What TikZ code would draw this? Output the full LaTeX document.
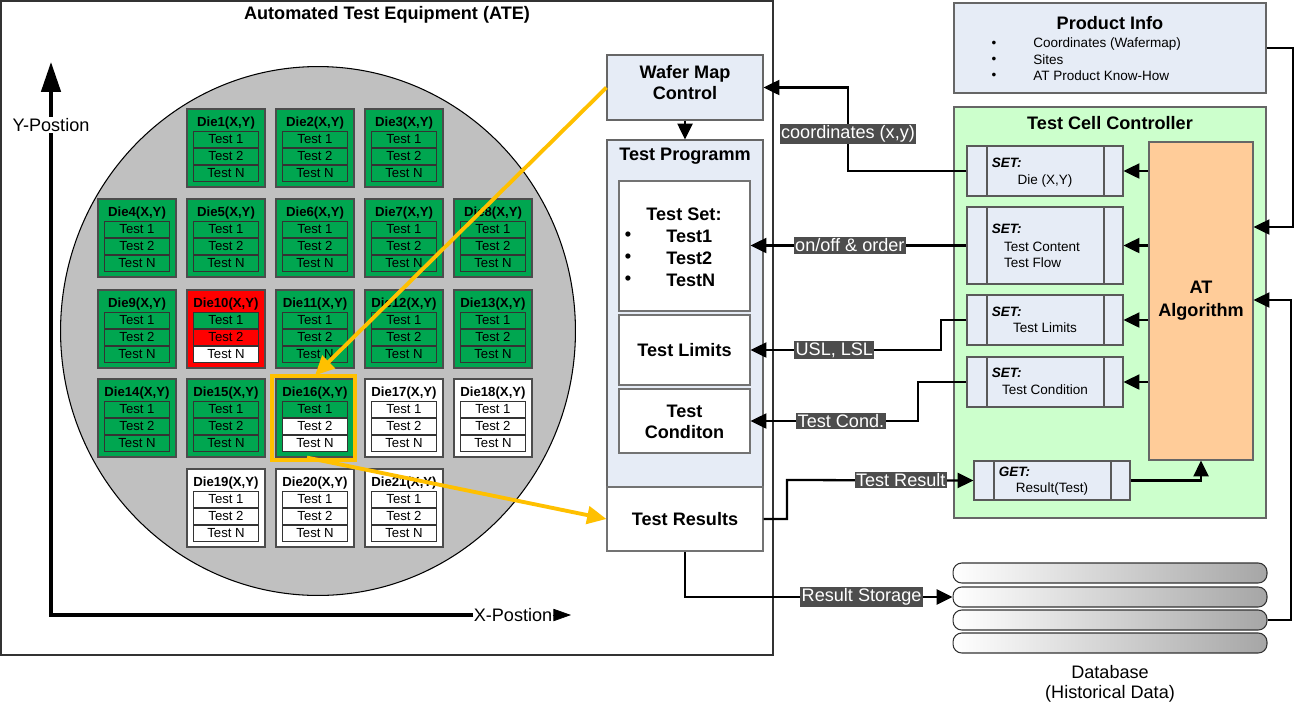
\documentclass[tikz,border=0pt]{standalone}
\usepackage{fontspec}
\setmainfont{Liberation Sans}
\usetikzlibrary{positioning, arrows.meta, calc, fit, shapes.geometric}
\definecolor{diegreen}{HTML}{00A650}
\definecolor{diered}{HTML}{FF0000}
\definecolor{paneblue}{HTML}{E6ECF6}
\definecolor{cellgreen}{HTML}{CCFFCC}
\definecolor{algopeach}{HTML}{FFCC99}
\definecolor{wafergray}{HTML}{C0C0C0}
\definecolor{hiliteorange}{HTML}{FFC000}
\definecolor{taggray}{HTML}{4D4D4D}

\newcommand{\headfont}{\fontsize{10.3}{12}\selectfont}
\newcommand{\infofont}{\fontsize{7.7}{9}\selectfont}
\newcommand{\diefont}{\fontsize{7.5}{9}\selectfont}

\tikzset{
  frame/.style={draw=black!80, line width=0.9pt, inner sep=0pt},
  panel/.style={draw=black!60, fill=paneblue, line width=0.6pt, inner sep=0pt},
  slot/.style={draw=black!55, fill=white, line width=0.6pt, inner sep=0pt},
  head/.style={font=\headfont\bfseries, inner sep=0pt, align=center},
  wafer/.style={ellipse, draw=black, fill=wafergray, line width=0.6pt, minimum width=10.3cm, minimum height=10.58cm},
  die/.style={draw=black!70, line width=0.7pt, minimum width=1.56cm, minimum height=1.56cm, inner sep=0pt},
  dietitle/.style={font=\diefont\bfseries, inner sep=0pt},
  testbox/.style={draw=black!80, line width=0.5pt, minimum width=1.3cm, minimum height=0.32cm, inner sep=0pt, font=\diefont},
  axis/.style={line width=2pt, -{Triangle[length=17pt, width=11pt]}},
  hilite/.style={draw=hiliteorange, line width=2.2pt},
  orangearrow/.style={hiliteorange, line width=2.2pt, -{Triangle[length=11pt, width=10pt]}},
  conn/.style={line width=1.3pt, -{Triangle[length=9pt, width=8.5pt]}},
  tag/.style={fill=taggray, text=white, font=\headfont, inner sep=0.8pt},
  setbox/.style={draw=black!65, fill=paneblue, line width=0.6pt, inner sep=0pt,
    path picture={
      \draw[black!65, line width=0.6pt] ([xshift=0.4cm]path picture bounding box.north west) -- ([xshift=0.4cm]path picture bounding box.south west);
      \draw[black!65, line width=0.6pt] ([xshift=-0.38cm]path picture bounding box.north east) -- ([xshift=-0.38cm]path picture bounding box.south east);}},
  sethead/.style={font=\infofont\bfseries\itshape, anchor=west, inner sep=0pt},
  setbody/.style={font=\infofont, align=left, inner sep=0pt},
  disk/.style={draw=black!80, line width=0.6pt, rounded corners=5pt, left color=white, right color=black!35, minimum width=6.28cm, minimum height=0.4cm}
}

\begin{document}
\begin{tikzpicture}[x=0.02cm, y=-0.02cm]
  \useasboundingbox (0,0) rectangle (1294,707);

  % ATE with the wafer
  \node[frame, fit={(1,1) (773,655)}] (ate) {};
  \node[head] (ate-title) at (387,15) {Automated Test Equipment (ATE)};
  \node[wafer] (wafer) at (318,331) {};

  \coordinate (origin) at (51,615);
  \coordinate (ytip) at (51,62);
  \node[font=\headfont, inner sep=0pt] (xlab) at (513,615) {X-Postion};
  \coordinate (xend) at (571,615);
  \draw[axis] (xlab.west) -- (origin) -- (ytip);
  \draw[-{Triangle[length=10pt, width=7pt]}] (xlab.east) -- (xend);
  \node[font=\headfont, fill=white, inner sep=1pt] (ylab) at (51,125) {Y-Postion};

  % dies: number/x/y/die/test1/test2/testN
  \foreach \n/\x/\y/\dfill/\ca/\cb/\cn in {
      1/226/148/diegreen/diegreen/diegreen/diegreen,
      2/315/148/diegreen/diegreen/diegreen/diegreen,
      3/404/148/diegreen/diegreen/diegreen/diegreen,
      4/137/238/diegreen/diegreen/diegreen/diegreen,
      5/226/238/diegreen/diegreen/diegreen/diegreen,
      6/315/238/diegreen/diegreen/diegreen/diegreen,
      7/404/238/diegreen/diegreen/diegreen/diegreen,
      8/493/238/diegreen/diegreen/diegreen/diegreen,
      9/137/329/diegreen/diegreen/diegreen/diegreen,
      10/226/329/diered/diegreen/diered/white,
      11/315/329/diegreen/diegreen/diegreen/diegreen,
      12/404/329/diegreen/diegreen/diegreen/diegreen,
      13/493/329/diegreen/diegreen/diegreen/diegreen,
      14/137/418/diegreen/diegreen/diegreen/diegreen,
      15/226/418/diegreen/diegreen/diegreen/diegreen,
      16/315/418/diegreen/diegreen/white/white,
      17/404/418/white/white/white/white,
      18/493/418/white/white/white/white,
      19/226/508/white/white/white/white,
      20/315/508/white/white/white/white,
      21/404/508/white/white/white/white}{
    \node[die, fill=\dfill] (d\n) at (\x,\y) {};
    \node[dietitle] (d\n-title) at ($(d\n.north)+(0,15)$) {Die\n(X,Y)};
    \node[testbox, fill=\ca] (d\n-1) at ($(d\n)+(0,-9)$) {Test 1};
    \node[testbox, fill=\cb] (d\n-2) at ($(d\n)+(0,8)$) {Test 2};
    \node[testbox, fill=\cn] (d\n-3) at ($(d\n)+(0,25)$) {Test N};
  }
  \draw[hilite] ($(d16.north west)+(-3,-2)$) rectangle ($(d16.south east)+(0,2)$);

  % test program side
  \node[panel, fit={(607,55) (763,120)}] (wmc) {};
  \node[head] (wmc-text) at ($(wmc)+(0,-5)$) {Wafer Map\\Control};
  \node[panel, fit={(607,140) (763,487)}] (tp) {};
  \node[head] (tp-title) at (685,156) {Test Programm};
  \node[slot, fit={(619,181) (750,311)}] (tset) {};
  \node[head] (tset-title) at (684,214) {Test Set:};
  \foreach \t [count=\i] in {Test1,Test2,TestN}{
    \node[font=\headfont\bfseries] (tset-b\i) at (628,{214+22*\i}) {\textbullet};
    \node[head, anchor=west] (tset-\i) at (666,{214+22*\i}) {\t};
  }
  \node[slot, fit={(619,315) (750,385)}] (tlim) {};
  \node[head] (tlim-text) at (tlim) {Test Limits};
  \node[slot, fit={(619,389) (750,453)}] (tcond) {};
  \node[head] (tcond-text) at ($(tcond)+(0,1)$) {Test\\Conditon};
  \node[slot, fit={(607,487) (763,551)}] (trs) {};
  \node[head] (trs-text) at (trs) {Test Results};
  \draw[conn] (wmc) -- (tp);

  % product info and test cell controller
  \node[panel, fit={(954,3) (1266,93)}] (pinfo) {};
  \node[head] (pinfo-title) at (1110,23) {Product Info};
  \foreach \t [count=\i] in {Coordinates (Wafermap),Sites,AT Product Know-How}{
    \node[font=\infofont] (pinfo-b\i) at (994,{28+16*\i}) {\textbullet};
    \node[font=\infofont, anchor=west, inner sep=0pt] (pinfo-\i) at (1033,{28+16*\i}) {\t};
  }
  \node[frame, draw=black!60, line width=0.6pt, fill=cellgreen, fit={(954,107) (1266,518)}] (tcc) {};
  \node[head] (tcc-title) at (1110,123) {Test Cell Controller};
  \node[panel, fill=algopeach, fit={(1149,142) (1253,460)}] (algo) {};
  \node[head, font=\fontsize{10.3}{13}\selectfont\bfseries] (algo-text) at (algo) {AT\\Algorithm};

  \node[setbox, fit={(967,146) (1123,196)}] (sdie) {};
  \node[sethead] (sdie-h) at ($(sdie.north west)+(25,17)$) {SET:};
  \node[setbody] (sdie-b) at ($(sdie)+(0,10)$) {Die (X,Y)};
  \node[setbox, fit={(967,207) (1123,284)}] (scont) {};
  \node[sethead] (scont-h) at ($(scont.north west)+(25,22)$) {SET:};
  \node[setbody] (scont-b) at ($(scont)+(-3,9)$) {Test Content\\Test Flow};
  \node[setbox, fit={(967,295) (1123,345)}] (slim) {};
  \node[sethead] (slim-h) at ($(slim.north west)+(25,17)$) {SET:};
  \node[setbody] (slim-b) at ($(slim)+(0,8)$) {Test Limits};
  \node[setbox, fit={(967,357) (1123,407)}] (scond) {};
  \node[sethead] (scond-h) at ($(scond.north west)+(25,16)$) {SET:};
  \node[setbody] (scond-b) at ($(scond)+(0,8)$) {Test Condition};
  \node[setbox, fit={(974,461) (1130,500)}] (sget) {};
  \node[sethead] (sget-h) at ($(sget.north west)+(25,11)$) {GET:};
  \node[setbody] (sget-b) at ($(sget)+(0,8)$) {Result(Test)};

  \foreach \s in {sdie,scont,slim,scond}
    \draw[conn] (\s.east -| algo.west) -- (\s.east);
  \draw[conn] (sget.east) -| (algo.south);

  % database
  \foreach \k/\y in {1/573,2/597,3/620,4/643}
    \node[disk] (db\k) at (1110,\y) {};
  \node[font=\fontsize{10.3}{11.3}\selectfont, align=center] (db-label) at (1110,684) {Database\\(Historical Data)};

  % connectors
  \coordinate (pi-turn) at (1293,227);
  \coordinate (db-turn) at (1291,300);
  \draw[conn] (pinfo.east) -| (pi-turn) -- (pi-turn -| algo.east);
  \draw[conn] (db3.east) -| (db-turn) -- (db-turn -| algo.east);

  \coordinate (xy-bend) at (848,171);
  \coordinate (lim-bend) at (941,320);
  \coordinate (cond-bend) at (918,382);
  \coordinate (res-bend) at (787,480);
  \draw[conn] (sdie.west) -- (xy-bend) |- node[tag, pos=0.22] {coordinates (x,y)} (wmc.east);
  \draw[conn] (scont.west) -- node[tag, pos=0.54] {on/off \& order} (scont.west -| tset.east);
  \draw[conn] (slim.west) -- (lim-bend) |- node[tag, pos=0.78] {USL, LSL} (tlim.east);
  \draw[conn] (scond.west) -- (cond-bend) |- node[tag, pos=0.73] {Test Cond.} (tcond.east);
  \draw[conn] (trs.east) -| (res-bend) -- node[tag, pos=0.61] {Test Result} (sget.west);
  \draw[conn] (trs.south) |- node[tag, pos=0.83] {Result Storage} (db2.west);

  % highlighted die
  \draw[orangearrow] (wmc.west) -- ($(d16.north)+(0,-3)$);
  \draw[orangearrow] ($(d16.south)+(-8,0)$) -- (trs.west);
\end{tikzpicture}
\end{document}
